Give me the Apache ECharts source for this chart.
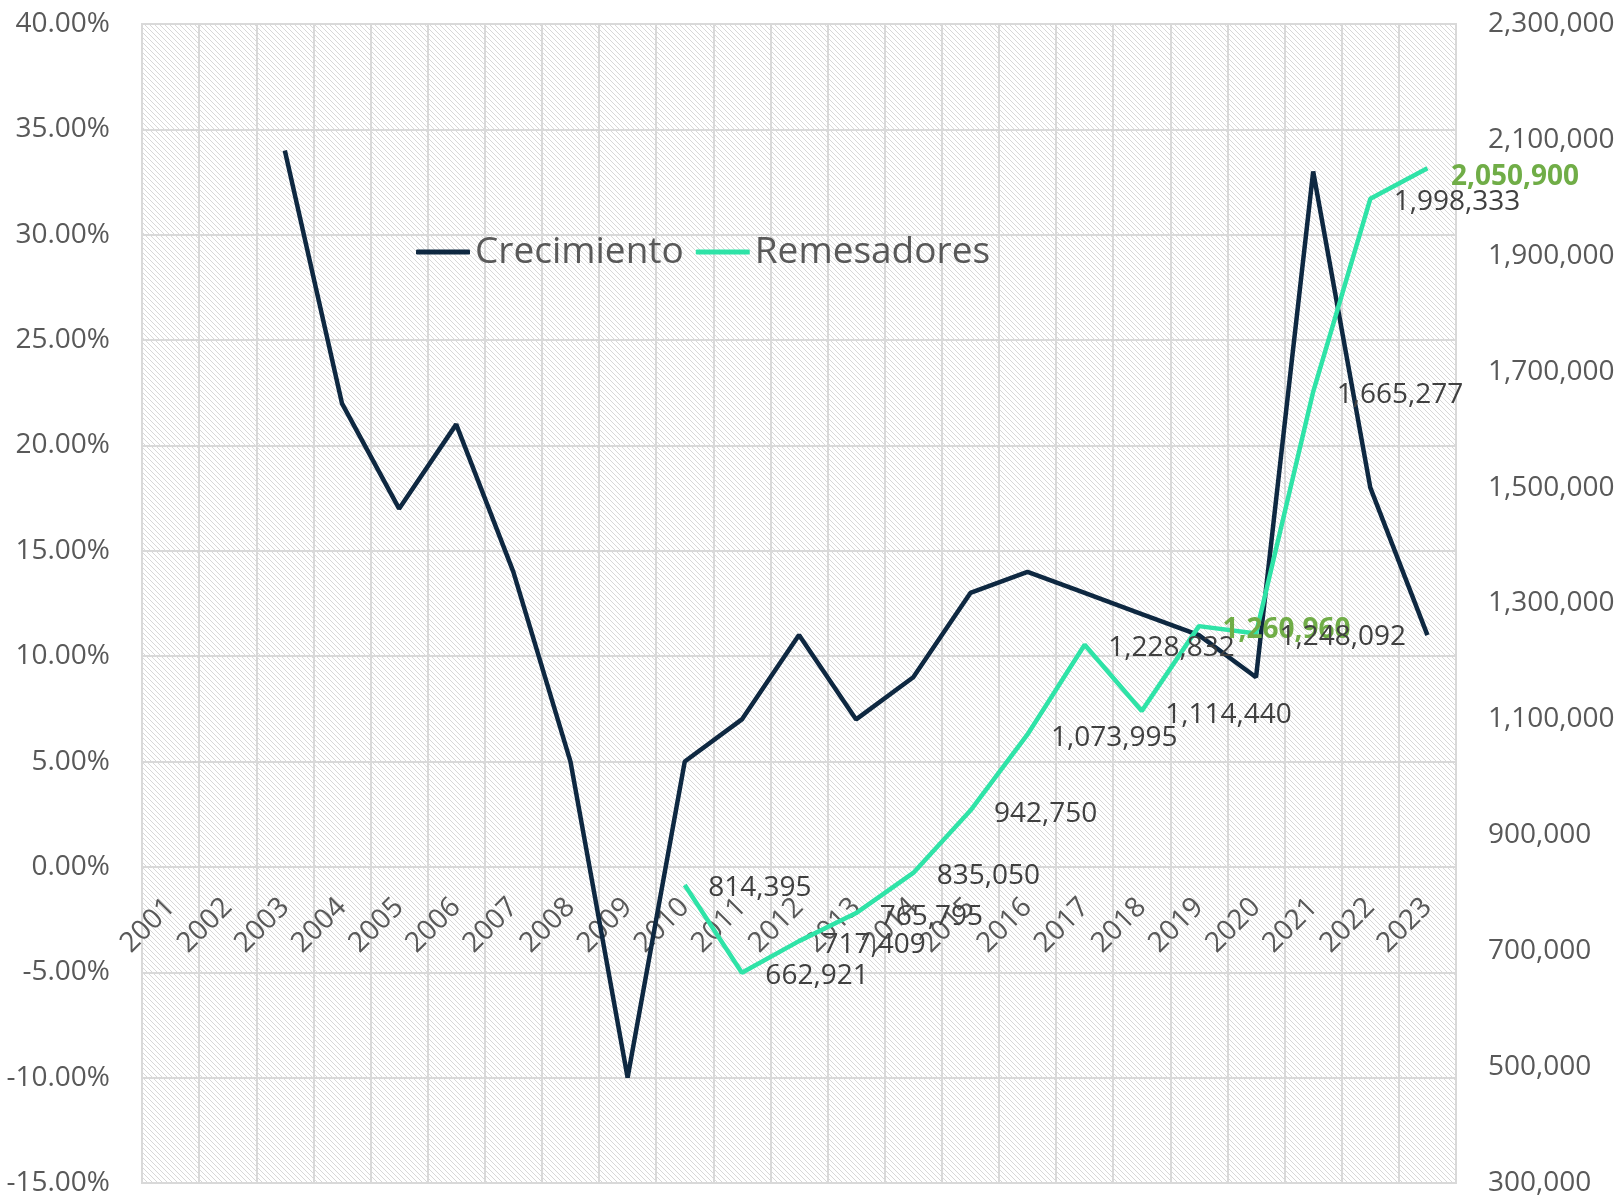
<!DOCTYPE html>
<html>
<head>
<meta charset="utf-8">
<script src="https://cdn.jsdelivr.net/npm/echarts@6/dist/echarts.min.js"></script>
<style>
  html, body { margin: 0; padding: 0; background: #fff; }
  #chart { width: 1619px; height: 1199px; }
</style>
</head>
<body>
<div id="chart"></div>
<script>
// years on the category axis
const years = ['2001', '2002', '2003', '2004', '2005', '2006', '2007', '2008', '2009', '2010', '2011', '2012',
  '2013', '2014', '2015', '2016', '2017', '2018', '2019', '2020', '2021', '2022', '2023'];

// growth in % (left axis)
const crecimiento = [null, null, 34, 22, 17, 21, 14, 5, -10, 5, 7, 11, 7, 9, 13, 14, 13, 12, 11, 9, 33, 18, 11];

// number of senders (right axis)
const remesadores = [null, null, null, null, null, null, null, null, null, 814395, 662921, 717409, 765795,
  835050, 942750, 1073995, 1228832, 1114440, 1260960, 1248092, 1665277, 1998333, 2050900];

// years whose label is highlighted
const highlightYears = ['2019', '2023'];

// left axis range
const pctMin = -15, pctMax = 40, pctStep = 5;

const font = '"Open Sans", "Liberation Sans", sans-serif';
const axisGrey = '#595959';
const gridGrey = '#d9d9d9';
const navy = '#0e2841';
const mint = '#2fe3a7';

const W = 1619, H = 1199;
const gridBox = { left: 142, right: 163, top: 24, bottom: 16 };
const plotH = H - gridBox.top - gridBox.bottom;
// the category axis sits on the 0% line
const zeroOffset = -plotH * (0 - pctMin) / (pctMax - pctMin);

// hatched background for the plot area
const pat = document.createElement('canvas');
pat.width = 5;
pat.height = 5;
const pctx = pat.getContext('2d');
pctx.fillStyle = '#ffffff';
pctx.fillRect(0, 0, 5, 5);
pctx.fillStyle = '#d8d8d8';
for (let i = 0; i < 5; i++) pctx.fillRect(i, i, 1, 1);

const fmtNum = v => Math.round(v).toLocaleString('en-US');

const remData = remesadores.map((v, i) => {
  if (v == null) return null;
  if (highlightYears.indexOf(years[i]) >= 0) {
    // last highlighted label sits a bit lower
    const pos = i === years.length - 1 ? [24, 9] : [24, 4];
    return { value: v, label: { color: '#70ad47', fontWeight: 'bold', position: pos } };
  }
  return v;
});

const chart = echarts.init(document.getElementById('chart'));
chart.setOption({
  animation: false,
  textStyle: { fontFamily: font },
  grid: Object.assign({
    outerBoundsMode: 'none',
    containLabel: false,
    show: true,
    backgroundColor: { image: pat, repeat: 'repeat' },
    borderColor: gridGrey,
    borderWidth: 2
  }, gridBox),
  legend: {
    left: 411,
    top: 227,
    itemWidth: 54,
    itemHeight: 5,
    itemGap: 12,
    textStyle: { fontSize: 37, color: axisGrey, fontFamily: font, lineHeight: 40 },
    data: [
      { name: 'Crecimiento', icon: 'roundRect', itemStyle: { color: navy, opacity: 1 } },
      { name: 'Remesadores', icon: 'roundRect', itemStyle: { color: mint, opacity: 1 } }
    ]
  },
  xAxis: {
    type: 'category',
    data: years,
    boundaryGap: true,
    position: 'bottom',
    offset: zeroOffset,
    axisLine: { show: false, onZero: false },
    axisTick: { show: false },
    axisLabel: {
      interval: 0,
      rotate: 45,
      margin: 36,
      fontSize: 28,
      color: axisGrey,
      fontFamily: font
    },
    splitLine: { show: true, lineStyle: { color: gridGrey, width: 2 } }
  },
  yAxis: [
    {
      type: 'value',
      min: pctMin,
      max: pctMax,
      interval: pctStep,
      axisLine: { show: false },
      axisTick: { show: false },
      axisLabel: {
        margin: 32,
        fontSize: 28,
        color: axisGrey,
        fontFamily: font,
        formatter: v => v.toFixed(2) + '%'
      },
      splitLine: { lineStyle: { color: gridGrey, width: 2 } }
    },
    {
      type: 'value',
      min: 300000,
      max: 2300000,
      interval: 200000,
      axisLine: { show: false },
      axisTick: { show: false },
      axisLabel: {
        margin: 32,
        fontSize: 28,
        color: axisGrey,
        fontFamily: font,
        formatter: fmtNum
      },
      splitLine: { show: false }
    }
  ],
  series: [
    {
      name: 'Crecimiento',
      type: 'line',
      yAxisIndex: 0,
      data: crecimiento,
      symbol: 'none',
      lineStyle: { color: navy, width: 4.5 },
      itemStyle: { color: navy }
    },
    {
      name: 'Remesadores',
      type: 'line',
      yAxisIndex: 1,
      data: remData,
      symbol: 'circle',
      symbolSize: 1,
      showSymbol: true,
      lineStyle: { color: mint, width: 4.5 },
      itemStyle: { color: 'rgba(0,0,0,0)', borderWidth: 0 },
      label: {
        show: true,
        position: [24, 4],
        align: 'left',
        verticalAlign: 'middle',
        fontSize: 28,
        color: '#404040',
        fontFamily: font,
        formatter: p => fmtNum(p.value)
      },
      labelLayout: { hideOverlap: false }
    }
  ]
});
</script>
</body>
</html>
